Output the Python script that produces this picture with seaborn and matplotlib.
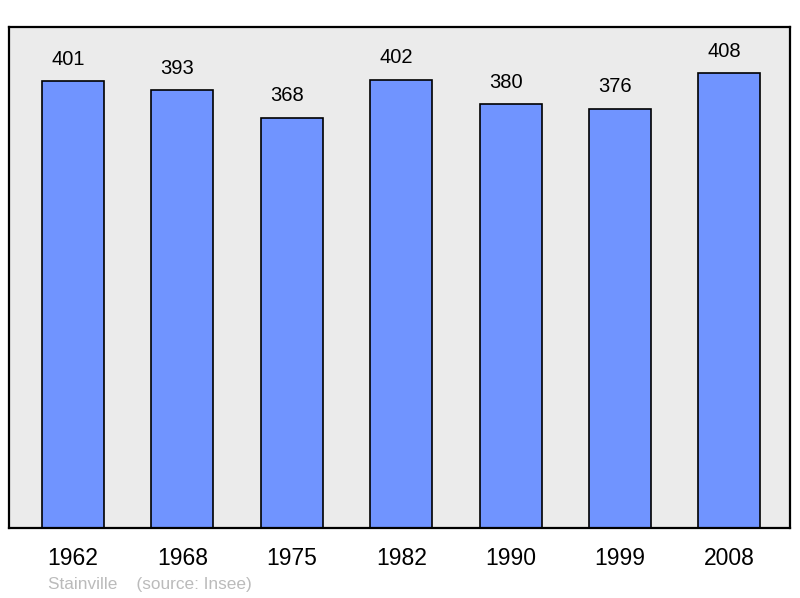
import matplotlib
matplotlib.use("Agg")
import matplotlib.pyplot as plt
import seaborn as sns
import pandas as pd

years = ["1962", "1968", "1975", "1982", "1990", "1999", "2008"]
population = [401, 393, 368, 402, 380, 376, 408]

sns.set_style("white")
plt.rcParams['font.family'] = ['Liberation Sans', 'DejaVu Sans']

df = pd.DataFrame({"year": years, "pop": population})

fig = plt.figure(figsize=(8, 5.98), dpi=100)
ax = fig.add_axes([0.01125, 0.1171, 0.97625, 0.8378])
ax.set_facecolor("#ebebeb")

sns.barplot(data=df, x="year", y="pop", color="#7094ff", saturation=1,
            width=0.567, edgecolor="black", linewidth=1.2, ax=ax)

# value labels sit a little left of the bar centre in the original
for i, v in enumerate(population):
    ax.text(i - 0.045, v + 19.5, str(v), ha="center", va="center",
            fontsize=14.5, color="black")

ax.set_xlim(-0.585, 6.554)
ax.set_ylim(0, 449.3)
ax.set_yticks([])
ax.set_xlabel("")
ax.set_ylabel("")
ax.tick_params(axis="x", length=0, labelsize=16.5, pad=14, labelcolor="black")
for s in ax.spines.values():
    s.set_color("black")
    s.set_linewidth(1.6)

fig.text(0.06, 0.023, "Stainville    (source: Insee)", fontsize=12.4, color="#bbbbbb",
         ha="left", va="center")

fig.savefig("out.png", dpi=100)
